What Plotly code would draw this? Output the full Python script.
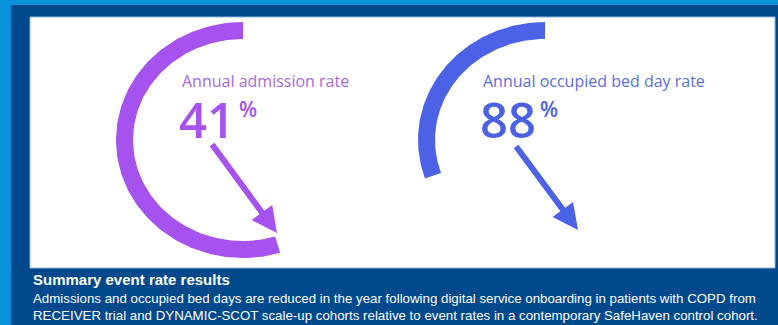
import numpy as np
import plotly.graph_objects as go

# ---- data ----
labels = ["Annual admission rate", "Annual occupied bed day rate"]
values = [41, 88]
arc_start_deg = [90, 90]
arc_end_deg = [287, 199]
colors = ["#a652ee", "#4c62e6"]
label_colors = ["#a668e4", "#5a6ee2"]
title_text = "Summary event rate results"
body_lines = [
    "Admissions and occupied bed days are reduced in the year following digital service onboarding in patients with COPD from",
    "RECEIVER trial and DYNAMIC-SCOT scale-up cohorts relative to event rates in a contemporary SafeHaven control cohort.",
]

# ---- layout geometry ----
W, H = 778, 325
centers_x = [243, 545]
center_y = 140
rx_out, ry_out, thick = 127, 118, 17
label_x = [180, 481]
arrow_tail = [(211, 143), (515, 145)]
arrow_tip = [(277, 233), (578, 230)]

fig = go.Figure()

for i in range(2):
    a = np.radians(np.linspace(arc_start_deg[i], arc_end_deg[i], 120))
    cx = centers_x[i]
    xo = cx + rx_out * np.cos(a)
    yo = center_y - ry_out * np.sin(a)
    xi = cx + (rx_out - thick) * np.cos(a[::-1])
    yi = center_y - (ry_out - thick) * np.sin(a[::-1])
    fig.add_trace(go.Scatter(
        x=np.concatenate([xo, xi, xo[:1]]),
        y=np.concatenate([yo, yi, yo[:1]]),
        mode="lines", fill="toself", fillcolor=colors[i],
        line=dict(width=0, color=colors[i]), hoverinfo="skip", showlegend=False,
    ))

annotations = []
for i in range(2):
    annotations.append(dict(
        x=label_x[i], y=81, xref="x", yref="y", text=labels[i], showarrow=False,
        xanchor="left", yanchor="middle",
        font=dict(family="Open Sans", size=16, color=label_colors[i]),
    ))
    annotations.append(dict(
        x=label_x[i] - 3, y=119, xref="x", yref="y", text=str(values[i]), showarrow=False,
        xanchor="left", yanchor="middle",
        font=dict(family="Open Sans", size=49, color=colors[i], weight=600),
    ))
    annotations.append(dict(
        x=label_x[i] + 57, y=109, xref="x", yref="y", text="%", showarrow=False,
        xanchor="left", yanchor="middle",
        font=dict(family="Open Sans", size=21, color=colors[i], weight=600),
    ))
    annotations.append(dict(
        x=arrow_tip[i][0], y=arrow_tip[i][1], ax=arrow_tail[i][0], ay=arrow_tail[i][1],
        xref="x", yref="y", axref="x", ayref="y", text="", showarrow=True,
        arrowhead=2, arrowwidth=6, arrowsize=0.85, arrowcolor=colors[i],
    ))

annotations.append(dict(
    x=31, y=279, xref="x", yref="y", text="<b>" + title_text + "</b>", showarrow=False,
    xanchor="left", yanchor="middle",
    font=dict(family="Liberation Sans", size=15, color="white"),
))
for j, line in enumerate(body_lines):
    annotations.append(dict(
        x=31, y=298 + 17.5 * j, xref="x", yref="y", text=line, showarrow=False,
        xanchor="left", yanchor="middle",
        font=dict(family="Liberation Sans", size=13.3, color="white"),
    ))

shapes = [
    dict(type="rect", xref="x", yref="y", x0=11, x1=W + 5, y0=5, y1=H + 5,
         fillcolor="#00498d", line=dict(width=0), layer="below"),
    dict(type="rect", xref="x", yref="y", x0=30, x1=775, y0=17, y1=268,
         fillcolor="white", line=dict(width=1, color="#8fb6e0"), layer="below"),
]

fig.update_layout(
    width=W, height=H, margin=dict(l=0, r=0, t=0, b=0),
    paper_bgcolor="#0a92da", plot_bgcolor="rgba(0,0,0,0)",
    xaxis=dict(range=[0, W], visible=False, fixedrange=True),
    yaxis=dict(range=[H, 0], visible=False, fixedrange=True),
    shapes=shapes, annotations=annotations, showlegend=False,
)

fig.write_html("out.html")
